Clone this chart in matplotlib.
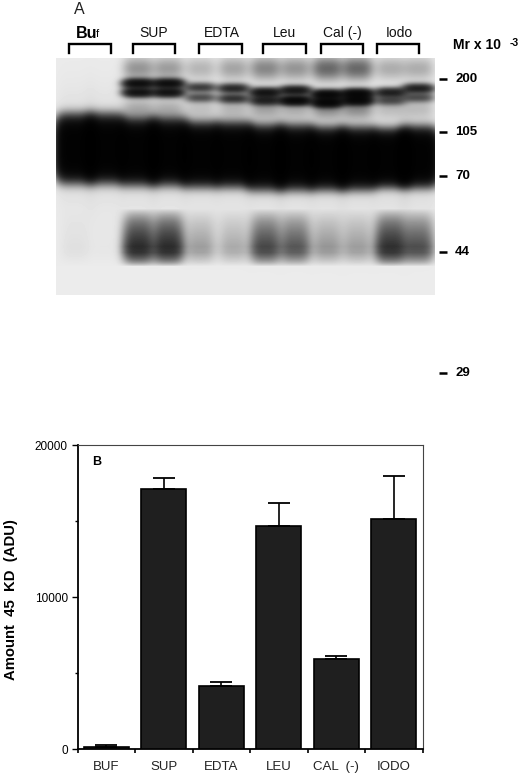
import numpy as np
import matplotlib
matplotlib.use('Agg')
import matplotlib.pyplot as plt

plt.rcParams['font.family'] = ['Liberation Sans', 'DejaVu Sans']

# panel B
categories = ['BUF', 'SUP', 'EDTA', 'LEU', 'CAL  (-)', 'IODO']
means = [130, 17080, 4150, 14670, 5920, 15150]
errors = [130, 770, 240, 1510, 200, 2810]
y_major = [0, 10000, 20000]
y_minor = [5000, 15000]

# panel A, one entry per gel lane
lane_x = [75, 105, 138, 168, 200, 233, 265, 295, 327, 357, 390, 418]
main_top = [118, 118, 122, 122, 126, 126, 129, 129, 131, 131, 132, 130]
main_bottom = [178, 178, 180, 180, 182, 182, 185, 185, 185, 185, 183, 183]
smear_200 = [0.0, 0.0, 0.45, 0.4, 0.25, 0.35, 0.55, 0.45, 0.8, 0.8, 0.3, 0.3]
upper_y1 = [85, 85, 83, 83, 87, 88, 92, 90, 94, 93, 92, 88]
upper_d1 = [0, 0, 2.6, 2.6, 1.3, 1.7, 2.3, 2.2, 3.0, 3.0, 1.9, 1.9]
upper_y2 = [95, 95, 92, 92, 97, 98, 100, 100, 102, 100, 100, 97]
upper_d2 = [0, 0, 2.4, 2.4, 1.0, 1.4, 1.7, 3.0, 3.0, 2.8, 1.0, 1.0]
band_44 = [0.05, 0.02, 1.7, 1.7, 0.4, 0.32, 1.2, 1.0, 0.45, 0.4, 1.6, 1.1]

lane_groups = ['SUP', 'EDTA', 'Leu', 'Cal (-)', 'Iodo']
group_x = [154, 222, 284, 342, 399]
bracket_left = [69, 133, 199, 263, 321, 377]
bracket_right = [111, 175, 242, 306, 363, 419]
marker_labels = ['200', '105', '70', '44', '29']
marker_y = [79, 132, 176, 252, 373]


def gel_image():
    yy, xx = np.mgrid[58:295, 56:435]
    density = np.full(xx.shape, 0.04, dtype=float)
    for i, xc in enumerate(lane_x):
        narrow = np.exp(-np.abs((xx - xc) / 15.0) ** 3)
        wide = np.exp(-((xx - xc) / 19.0) ** 4)

        yc = (main_top[i] + main_bottom[i]) / 2
        half = (main_bottom[i] - main_top[i]) / 2
        density += 4.5 * wide * np.exp(-((yy - yc) / half) ** 4)
        density += 0.1 * wide * np.exp(-((yy - yc) / 50.0) ** 2)

        density += smear_200[i] * narrow * np.exp(-((yy - 68) / 11.0) ** 2)
        density += smear_200[i] * 0.6 * narrow * np.exp(-((yy - 108) / 10.0) ** 2)
        density += upper_d1[i] * narrow * np.exp(-((yy - upper_y1[i]) / 4.6) ** 2)
        density += upper_d2[i] * narrow * np.exp(-((yy - upper_y2[i]) / 4.6) ** 2)

        ramp = np.interp(yy, [208, 222, 246, 252, 266], [0, 0.4, 1, 0.9, 0])
        density += band_44[i] * narrow * ramp
    return 0.96 * np.exp(-density)


fig = plt.figure(figsize=(5.2, 7.75), dpi=100)

ax_a = fig.add_axes([0, 0, 1, 1])
ax_a.set_xlim(0, 520)
ax_a.set_ylim(775, 0)
ax_a.axis('off')
ax_a.imshow(gel_image(), cmap='gray', vmin=0, vmax=1, extent=(56, 435, 295, 58),
            aspect='auto', interpolation='bilinear')
ax_a.set_xlim(0, 520)
ax_a.set_ylim(775, 0)

for left, right in zip(bracket_left, bracket_right):
    ax_a.plot([left, left, right, right], [53, 43.5, 43.5, 53], color='black', lw=1.7,
              solid_joinstyle='miter')

ax_a.text(79, 10, 'A', fontsize=11.5, ha='center', va='center', color='#222222')
ax_a.text(76, 33, 'Bu', fontsize=11.5, fontweight='bold', ha='left', va='center')
ax_a.text(96, 34, 'f', fontsize=8, ha='left', va='center')
for label, x in zip(lane_groups, group_x):
    ax_a.text(x, 33, label, fontsize=10, ha='center', va='center', color='#111111')

ax_a.text(453, 45, 'Mr x 10', fontsize=10, fontweight='bold', ha='left', va='center')
ax_a.text(510, 43, '-3', fontsize=7.5, fontweight='bold', ha='left', va='center')
for label, y in zip(marker_labels, marker_y):
    ax_a.plot([439, 447], [y, y], color='black', lw=1.8, solid_capstyle='butt')
    ax_a.text(455, y, label, fontsize=9.5, fontweight='bold', ha='left', va='center')

ax_b = fig.add_axes([77.5 / 520, 26 / 775, 345 / 520, 304 / 775])
pos = np.arange(len(categories)) + 0.5
ax_b.bar(pos, means, width=0.79, color='#1f1f1f', edgecolor='black', linewidth=1.2,
         yerr=[np.zeros(len(errors)), errors], capsize=8,
         error_kw={'ecolor': 'black', 'elinewidth': 1.2, 'capthick': 1.3}, zorder=3)
ax_b.set_xlim(0, 6)
ax_b.set_ylim(0, 20000)
ax_b.set_xticks(range(7))
ax_b.set_xticklabels([])
ax_b.tick_params(axis='x', length=3, width=1.2, direction='out')
ax_b.set_yticks(y_major)
ax_b.set_yticklabels(['0', '10000', '20000'], fontsize=8.5)
ax_b.set_yticks(y_minor, minor=True)
ax_b.tick_params(axis='y', which='major', length=4, width=1, pad=3)
ax_b.tick_params(axis='y', which='minor', length=2, width=1)
for x, label in zip(pos, categories):
    ax_b.annotate(label, (x, 0), xytext=(0, -13), textcoords='offset points',
                  ha='center', va='center', fontsize=9.5, color='#222222')
ax_b.text(0.042, 0.945, 'B', transform=ax_b.transAxes, fontsize=9, fontweight='bold',
          ha='left', va='center')
ax_b.set_ylabel('Amount  45  KD  (ADU)', fontsize=10.7, fontweight='bold', labelpad=12, y=0.49)
for side in ['left', 'bottom']:
    ax_b.spines[side].set_linewidth(1.3)
for side in ['top', 'right']:
    ax_b.spines[side].set_linewidth(0.8)
    ax_b.spines[side].set_color('#444444')

fig.savefig('out.png', dpi=100)
plt.close()
